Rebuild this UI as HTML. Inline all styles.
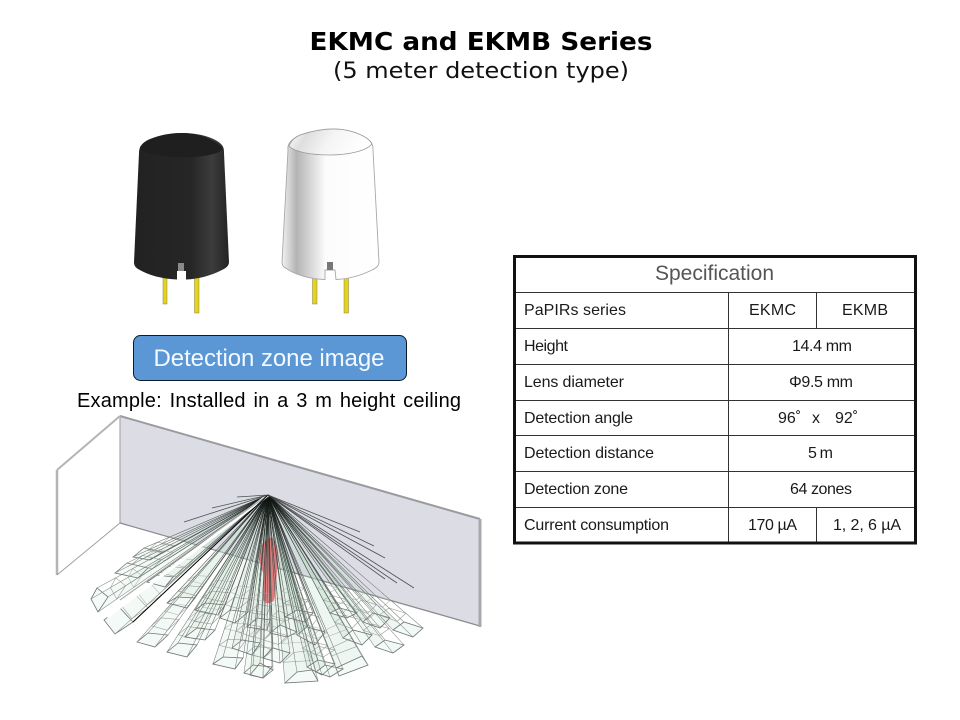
<!DOCTYPE html>
<html><head><meta charset="utf-8"><style>
html,body{margin:0;padding:0;background:#fff}
svg{display:block}
.s{font-family:"Liberation Sans","DejaVu Sans",sans-serif;font-size:16px;fill:#1a1a1a}
.m{text-anchor:middle}
</style></head><body>
<svg id="v" width="960" height="720" viewBox="0 0 960 720" xmlns="http://www.w3.org/2000/svg">
<defs>
<linearGradient id="bk" x1="0" x2="1" y1="0" y2="0"><stop offset="0" stop-color="#222"/><stop offset=".6" stop-color="#262626"/><stop offset=".82" stop-color="#3c3c3c"/><stop offset="1" stop-color="#242424"/></linearGradient>
<linearGradient id="wh" x1="0" x2="1" y1="0" y2="0"><stop offset="0" stop-color="#f2f2f2"/><stop offset=".15" stop-color="#b4b4b4"/><stop offset=".45" stop-color="#fcfcfc"/><stop offset="1" stop-color="#fff"/></linearGradient>
<linearGradient id="dome" x1="0" x2="1" y1="0" y2=".2"><stop offset="0" stop-color="#fff"/><stop offset=".25" stop-color="#dedede"/><stop offset=".55" stop-color="#f4f4f4"/><stop offset="1" stop-color="#fff"/></linearGradient>
<radialGradient id="ray" gradientUnits="userSpaceOnUse" cx="268" cy="495" r="190"><stop offset="0" stop-color="#0a0f0c"/><stop offset=".3" stop-color="#414b46"/><stop offset="1" stop-color="#858b88"/></radialGradient>
</defs>
<text x="481" y="50" text-anchor="middle" textLength="343" lengthAdjust="spacingAndGlyphs" style="font-family:'DejaVu Sans',sans-serif;font-weight:bold;font-size:25px;fill:#000">EKMC and EKMB Series</text>
<text x="481" y="78" text-anchor="middle" textLength="296" lengthAdjust="spacingAndGlyphs" style="font-family:'DejaVu Sans',sans-serif;font-size:22px;fill:#111">(5 meter detection type)</text>

<!-- black sensor -->
<rect x="163" y="276" width="4" height="28" fill="#e3d21e" stroke="#8a8240" stroke-width=".5"/><rect x="194.500" y="276" width="4.500" height="37" fill="#e3d21e" stroke="#8a8240" stroke-width=".5"/>
<path d="M139 153C139 146 143 142 150 139C160 135 170 133 182 133C200 133 215 138 221 144C224 147 224 150 224 153L229 262C229 266 226 268 222 270C210 276 198 279 186 279.500L186 271L177 271L177 279.500C162 279 148 275 138 269C135 267 134 265 134 262Z" fill="url(#bk)"/>
<path d="M140 149C150 159 212 161 223 149C216 139 196 133 182 133C165 133 147 139 140 147Z" fill="#1f1f1f"/>
<rect x="178" y="263" width="6" height="8" fill="#8a8a8a"/>
<!-- white sensor -->
<rect x="312.500" y="276" width="4.500" height="28" fill="#e3d21e" stroke="#8a8240" stroke-width=".5"/><rect x="344" y="276" width="4.500" height="37" fill="#e3d21e" stroke="#8a8240" stroke-width=".5"/>
<path d="M288 150C287 143 292 139 300 135C315 130 325 129 333 129C350 129 364 135 370 141C373 144 373 147 373 150L379 262C379 266 376 268 372 270C360 276 348 279 336 279.500L335 270L325 270L325 279.500C310 279 296 275 287 269C283 267 282 265 282 262Z" fill="url(#wh)" stroke="#a8a8a8" stroke-width=".9"/>
<path d="M289 146C292 139 296 137 300 135C315 130 325 129 333 129C350 129 364 135 370 141L372 144C366 151 348 155 330 155C312 155 294 152 289 146Z" fill="url(#dome)" stroke="#999" stroke-width=".8"/>
<rect x="327" y="262" width="6" height="8" fill="#777"/>

<!-- button -->
<rect x="133.500" y="335.500" width="273" height="45" rx="7" fill="#5b97d5" stroke="#0c1c2c" stroke-width="1"/>
<text x="269" y="366" text-anchor="middle" textLength="231" style="font-family:'Liberation Sans',sans-serif;font-size:24px;fill:#f4f9ff">Detection zone image</text>
<text x="269" y="407" text-anchor="middle" textLength="384" style="font-family:'Liberation Sans',sans-serif;font-size:20px;word-spacing:2px;fill:#000">Example: Installed in a 3 m height ceiling</text>

<!-- room -->
<polygon points="120,416 480,519 480,626 120,523" fill="#dcdce4"/>
<path d="M120 416L480 519" stroke="#9a9a9f" stroke-width="2" fill="none"/>
<path d="M120 416V523" stroke="#aaa" stroke-width="1.200"/>
<path d="M120 523L480 626" stroke="#8b8b90" stroke-width="1.300"/>
<path d="M480 519V627" stroke="#a8a8ae" stroke-width="3"/>
<path d="M57 470L120 416" stroke="#b4b4b4" stroke-width="2"/>
<path d="M57 470V575" stroke="#b4b4b4" stroke-width="2.500"/>
<path d="M57 575L120 523" stroke="#a0a0a0" stroke-width="1"/>
<g id="fills"></g>
<path d="M266 540C270 536 275 538 276 544C279 550 279 562 277 570C276 585 276 595 274 600C270 605 264 604 263 599C263 588 264 578 263 572C259 565 259 552 261 547C262 544 264 542 266 540Z" fill="#dd7b7d"/>
<g id="fan"></g>

<!-- table -->
<g stroke="#333" stroke-width="1" fill="none">
<path d="M514 292.500H915M514 328.500H915M514 364.500H915M514 400.500H915M514 435.500H915M514 471.500H915M514 507.500H915"/>
<path d="M728.500 292V543"/>
<path d="M816.500 292V328M816.500 507V543"/>
</g>
<rect x="514.500" y="256.500" width="401" height="286.500" fill="none" stroke="#111" stroke-width="3"/>
<text x="714.500" y="280" text-anchor="middle" textLength="119" style="font-family:'Liberation Sans',sans-serif;font-size:21px;fill:#555">Specification</text>
<g id="t">
<text class="s" x="524" y="315" textLength="102">PaPIRs series</text>
<text class="s m" x="772.500" y="315" textLength="47">EKMC</text>
<text class="s m" x="865" y="315" textLength="46">EKMB</text>
<text class="s" x="524" y="351" textLength="44">Height</text>
<text class="s m" x="822" y="351" textLength="60">14.4 mm</text>
<text class="s" x="524" y="387" textLength="100">Lens diameter</text>
<text class="s m" x="821" y="387" textLength="64">Φ9.5 mm</text>
<text class="s" x="524" y="423" textLength="109">Detection angle</text>
<text class="s" x="778" y="423">96˚</text>
<text class="s" x="812" y="423">x</text>
<text class="s" x="835" y="423">92˚</text>
<text class="s" x="524" y="458" textLength="130">Detection distance</text>
<text class="s m" x="820.500" y="458" textLength="25">5 m</text>
<text class="s" x="524" y="494" textLength="104">Detection zone</text>
<text class="s m" x="821" y="494" textLength="62">64 zones</text>
<text class="s" x="524" y="530" textLength="145">Current consumption</text>
<text class="s m" x="772.500" y="530" textLength="49">170 µA</text>
<text class="s m" x="867" y="530" textLength="68">1, 2, 6 µA</text>
</g>
</svg>
<script>
(function(){
var ax=268,ay=495,g=document.getElementById('fan'),f=document.getElementById('fills'),NS='http://www.w3.org/2000/svg';
var cells=[
[133,557,144,548,163,552,150,560],[115,573,127,563,148,568,138,578],[91,599,97,588,108,597,98,612],
[104,620,120,608,133,622,115,634],[137,642,148,633,168,635,155,647],[167,652,178,643,197,645,187,657],
[213,664,223,657,243,658,235,669],[244,673,253,665,272,667,263,678],[167,603,177,597,195,598,187,608],
[147,582,157,575,173,577,165,587],[195,610,205,603,225,605,218,615],[185,637,197,628,215,630,205,640],
[220,618,230,610,248,612,235,623],[232,648,242,640,260,643,252,655],[247,627,257,618,270,620,267,630],
[250,675,260,663,273,670,263,678],[263,658,273,648,290,653,280,663],[285,683,297,672,312,670,318,681],
[307,667,318,660,335,664,322,675],[316,672,325,665,343,669,330,677],[339,676,336,668,362,656,368,665],
[343,638,353,630,372,635,362,645],[297,635,307,627,325,632,315,645],[270,633,280,625,297,632,287,637],
[375,647,385,640,404,645,393,653],[363,622,373,613,390,618,380,628],[393,630,404,622,423,628,413,637],
[330,613,340,608,357,613,347,618],[285,617,297,610,313,613,305,622]];
function add(tag,attrs,parent){var e=document.createElementNS(NS,tag);for(var k in attrs)e.setAttribute(k,attrs[k]);(parent||g).appendChild(e);return e;}
var j;
cells.forEach(function(c){
  var s=ax+','+ay;
  for(j=0;j<8;j+=2)s+=' '+c[j]+','+c[j+1];
  add('polygon',{points:s,fill:c[0]>ax?'#b9d9c3':'#cbe7d5','fill-opacity':.24},f);
  var q='';for(j=0;j<8;j+=2)q+=c[j]+','+c[j+1]+' ';
  add('polygon',{points:q,fill:'#f1f9f6','fill-opacity':.85},f);
});
cells.forEach(function(c){
  var q='';for(j=0;j<8;j+=2)q+=c[j]+','+c[j+1]+' ';
  add('polygon',{points:q,fill:'none',stroke:'#6f7572','stroke-width':.8});
  [.89,.79].forEach(function(t,n){
    var r='';for(j=0;j<8;j+=2)r+=(ax+(c[j]-ax)*t).toFixed(1)+','+(ay+(c[j+1]-ay)*t).toFixed(1)+' ';
    add('polygon',{points:r,fill:'none',stroke:n?'#b4bab7':'#98a09c','stroke-width':.6});
  });
  for(j=0;j<8;j+=2){
    add('line',{x1:ax,y1:ay,x2:c[j],y2:c[j+1],stroke:'url(#ray)','stroke-width':.55});
  }
});
add('line',{x1:ax,y1:ay,x2:107,y2:617,stroke:'#fff','stroke-width':3});
add('line',{x1:ax,y1:ay,x2:120,y2:600,stroke:'#aaa','stroke-width':1.2});
add('line',{x1:ax,y1:ay,x2:133,y2:622,stroke:'#000','stroke-width':1});
[[184,522],[212,508],[237,497],[360,532],[374,546],[385,558],[385,579],[397,583],[414,588]].forEach(function(p){
  add('line',{x1:ax,y1:ay,x2:p[0],y2:p[1],stroke:'#3d4340','stroke-width':.8,'stroke-opacity':.9});
});
})();
</script>
</body></html>
